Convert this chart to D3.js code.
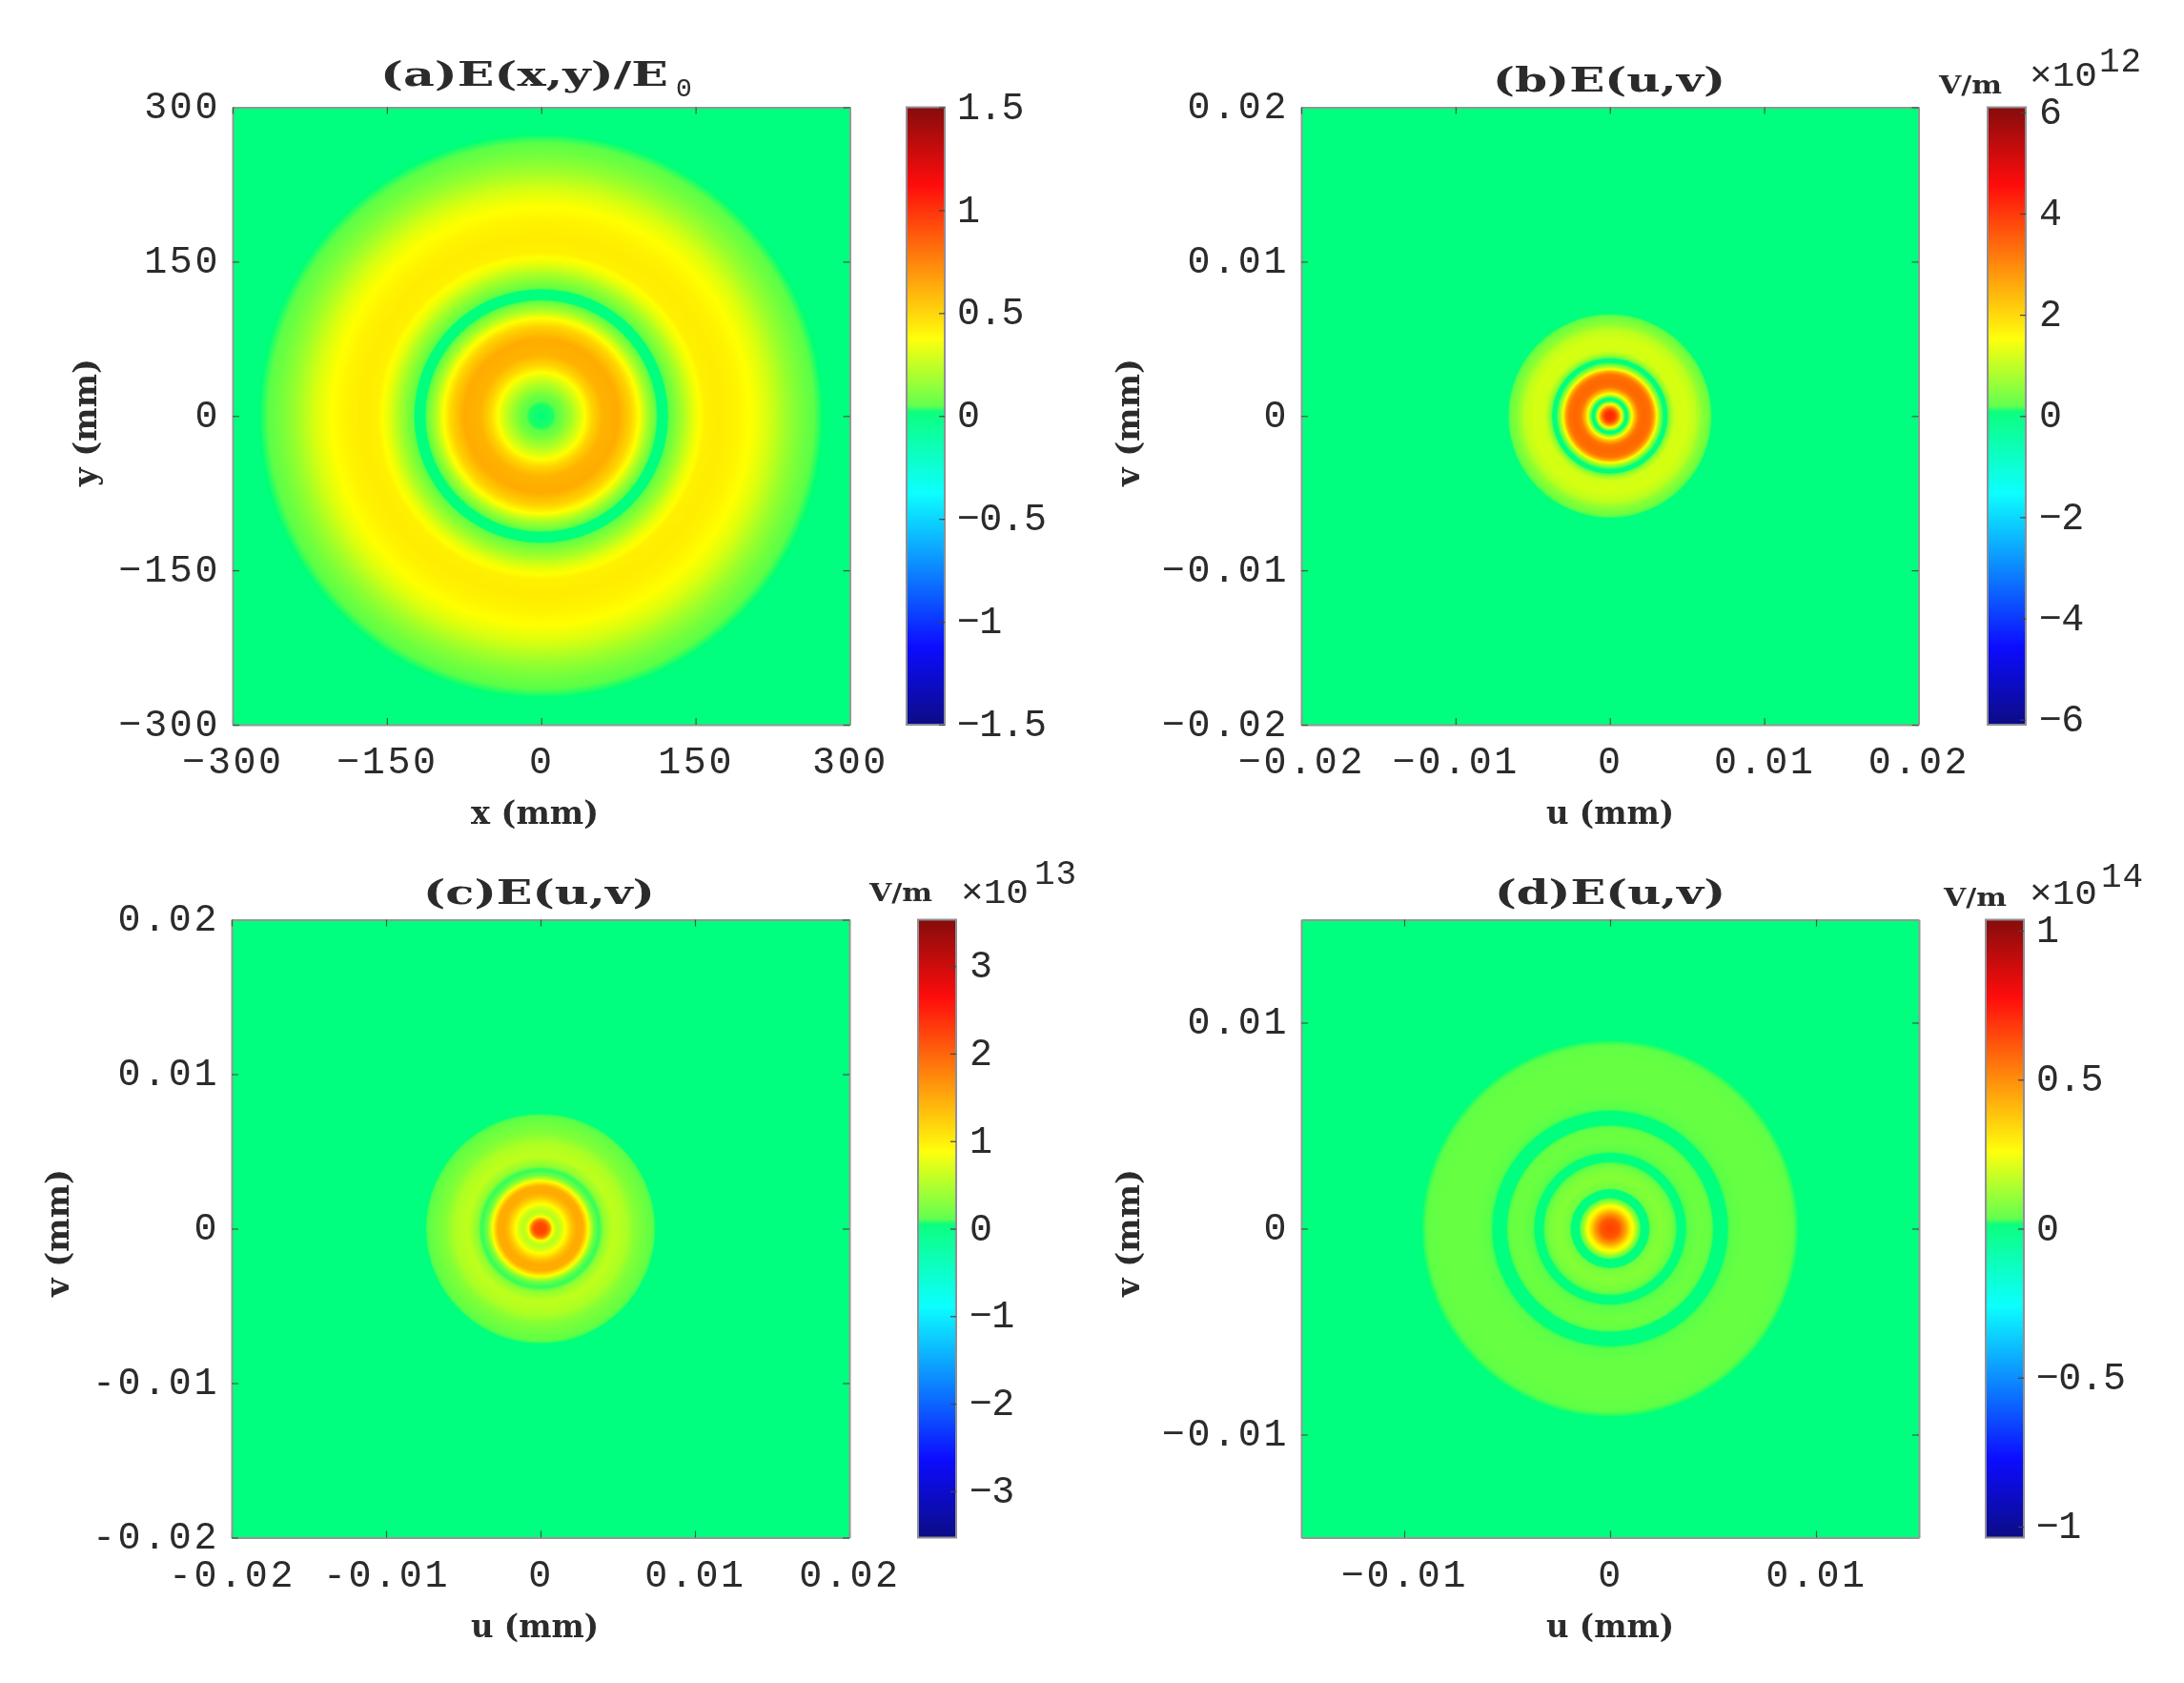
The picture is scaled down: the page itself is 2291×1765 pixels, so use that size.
<!DOCTYPE html>
<html><head><meta charset="utf-8">
<script src="https://cdn.jsdelivr.net/npm/d3@7"></script>
<style>
html,body{margin:0;padding:0;background:#fff}
svg{display:block;filter:blur(0.55px)}
text{fill:#2b2b2b}
.tick text{font-family:"Liberation Mono",monospace;font-size:40px;fill:#2b2b2b}
.lab{font-family:"DejaVu Serif",serif;font-weight:bold;font-size:33px}
.ttl{font-family:"DejaVu Serif",serif;font-weight:bold;font-size:36px}
.unit{font-family:"DejaVu Serif",serif;font-weight:bold;font-size:26px}
.exp{font-family:"Liberation Mono",monospace;font-size:36px}
</style></head><body>
<svg id="c" width="2291" height="1765"></svg>
<script>
// radial field profiles: radius (mm) and value
const aRadius=[0,12,20,30,40,50,60,75,88,96,104,110,113,115,122,125,138,148,160,175,190,205,220,240,255,262,268,272,276];
const aValue=[.02,.03,.08,.2,.33,.5,.6,.62,.5,.36,.19,.09,.03,0,0,.06,.2,.32,.42,.43,.41,.37,.3,.17,.09,.06,.04,.028,.012];
const bRadiusUm=[0,.31,.52,.68,.82,.95,1.07,1.19,1.30,1.44,1.65,1.90,2.27,2.68,2.88,3.05,3.21,3.40,3.55,3.72,3.91,4.22,4.94,5.56,5.97,6.39,6.59,6.70];
const bValue=[4.1,4.0,3.3,2.3,1.2,.2,0,0,.5,1.4,2.4,3.2,3.35,3.2,2.6,1.6,.8,.2,0,0,.6,1.15,1.2,1.0,.6,.35,.15,0];
const cRadiusUm=[0,.41,.62,.78,.93,1.13,1.44,1.75,2.06,2.37,2.78,3.09,3.30,3.50,3.71,3.91,4.12,4.74,5.56,6.18,7.0,7.42,7.52];
const cValue=[2.22,2.1,1.76,.95,.71,.53,.71,1.0,1.3,1.47,1.45,.95,.53,.18,.09,.09,.35,.58,.5,.3,.17,.09,0];
const dRadiusUm=[0,.46,.77,1.0,1.16,1.31,1.47,1.58,1.88,2.01,2.47,2.94,3.17,3.36,3.60,3.74,4.33,4.79,4.95,5.14,5.60,5.80,6.49,8.04,8.81,9.12,9.27];
const dValue=[.65,.6,.45,.3,.24,.12,.03,0,0,.06,.09,.07,.035,0,0,.03,.055,.05,.035,0,0,.03,.048,.05,.04,.02,0];

// tick labels
const aTicks=[-300,-150,0,150,300];
const bTicks=[-0.02,-0.01,0,0.01,0.02];
const dTicks=[-0.01,0,0.01];
const aBarTicks=[-1.5,-1,-0.5,0,0.5,1,1.5];
const bBarTicks=[-6,-4,-2,0,2,4,6];
const cBarTicks=[-3,-2,-1,0,1,2,3];
const dBarTicks=[-1,-0.5,0,0.5,1];

// colormap (fraction of colour limit -> colour)
const cmapStops=[-1,-.75,-.25,.014,.032,.25,.75,1];
const cmapColors=["#000080","#0000ff","#00ffff","#00ff78","#5cff48","#ffff00","#ff0000","#800000"];

const svg=d3.select("#c");
const minus=s=>String(s).replace("-","\u2212");
const hyphen=s=>String(s);

const panels=[
 {x0:244,y0:112.5,size:647.5,lim:300,ticks:aTicks,r:aRadius,v:aValue,barX:951,barW:40,clim:1.5,barTicks:aBarTicks,fmt:minus,
  title:"(a)E(x,y)/E",sub:"0",tx:399,tw:302,ty:90,xl:"x (mm)",yl:"y (mm)",xlx:561,ylx:92,yly:443,labx:1004},
 {x0:1365,y0:112.5,size:647.5,lim:.02,ticks:bTicks,r:bRadiusUm.map(d=>d/1000),v:bValue,barX:2085,barW:40,clim:6.1,barTicks:bBarTicks,fmt:minus,
  title:"(b)E(u,v)",tx:1566,tw:244,ty:96,xl:"u (mm)",yl:"v (mm)",xlx:1689,ylx:1186,yly:443,labx:2139,
  unit:[2034,98],times:[2129,90],exp:"12",expAt:[2202,75]},
 {x0:243,y0:964.5,size:648,lim:.02,ticks:bTicks,r:cRadiusUm.map(d=>d/1000),v:cValue,barX:963,barW:40,clim:3.53,barTicks:cBarTicks,fmt:hyphen,
  title:"(c)E(u,v)",tx:444,tw:243,ty:948,xl:"u (mm)",yl:"v (mm)",xlx:561,ylx:63,yly:1293,labx:1017,
  unit:[912,945],times:[1008,947],exp:"13",expAt:[1085,927]},
 {x0:1365,y0:964.5,size:648,lim:.015,ticks:dTicks,r:dRadiusUm.map(d=>d/1000),v:dValue,barX:2083,barW:40,clim:1.037,barTicks:dBarTicks,fmt:minus,
  title:"(d)E(u,v)",tx:1568,tw:242,ty:948,xl:"u (mm)",yl:"v (mm)",xlx:1689,ylx:1186,yly:1293,labx:2136,
  unit:[2039,950],times:[2129,948],exp:"14",expAt:[2204,930]}
];

panels.forEach(p=>{
  const g=svg.append("g");
  const x=d3.scaleLinear().domain([-p.lim,p.lim]).range([p.x0,p.x0+p.size]);
  const y=d3.scaleLinear().domain([-p.lim,p.lim]).range([p.y0+p.size,p.y0]);
  const color=d3.scaleLinear().domain(cmapStops.map(s=>s*p.clim)).range(cmapColors).interpolate(d3.interpolateRgb).clamp(true);
  const field=d3.scaleLinear().domain(p.r).range(p.v).clamp(true);

  // field: background, then rings painted from the outside in
  const clipId="clip"+p.x0+"_"+Math.round(p.y0);
  g.append("clipPath").attr("id",clipId).append("rect").attr("x",p.x0).attr("y",p.y0).attr("width",p.size).attr("height",p.size);
  g.append("rect").attr("x",p.x0).attr("y",p.y0).attr("width",p.size).attr("height",p.size).attr("fill",color(0));
  const scale=p.size/(2*p.lim);
  const rMax=d3.max(p.r);
  const rings=d3.range(rMax,0,-0.75/scale);
  g.append("g").attr("clip-path",`url(#${clipId})`).selectAll("circle").data(rings).join("circle")
    .attr("cx",x(0)).attr("cy",y(0)).attr("r",d=>d*scale).attr("fill",d=>color(field(d)));

  // frame and inner ticks
  const axes=[
    [d3.axisBottom(x).tickValues(p.ticks).tickFormat(p.fmt),`translate(0,${p.y0+p.size})`,"b"],
    [d3.axisLeft(y).tickValues(p.ticks).tickFormat(p.fmt),`translate(${p.x0},0)`,"l"],
    [d3.axisTop(x).tickValues(p.ticks).tickFormat(""),`translate(0,${p.y0})`,"t"],
    [d3.axisRight(y).tickValues(p.ticks).tickFormat(""),`translate(${p.x0+p.size},0)`,"r"]
  ];
  axes.forEach(([ax,tr,side])=>{
    const a=g.append("g").attr("transform",tr).call(ax.tickSizeInner(-7).tickSizeOuter(0).tickPadding(0));
    a.select(".domain").attr("stroke","#8f9a92").attr("stroke-width",2);
    a.selectAll(".tick line").attr("stroke","#3c5a48").attr("stroke-width",1.2);
    a.selectAll(".tick text").attr("letter-spacing",2.6);
    if(side==="b") a.selectAll(".tick text").attr("dy",0).attr("y",51);
    if(side==="l") a.selectAll(".tick text").attr("x",-13).attr("dy",".28em");
    if(side==="t"||side==="r") a.selectAll(".tick text").remove();
  });

  // colour bar
  const barY=d3.scaleLinear().domain([-p.clim,p.clim]).range([p.y0+p.size,p.y0]);
  const levels=d3.range(p.y0,p.y0+p.size,1).map(py=>barY.invert(py+.5));
  g.append("g").selectAll("rect").data(levels).join("rect")
    .attr("x",p.barX).attr("width",p.barW).attr("y",d=>barY(d)-.5).attr("height",1.4).attr("fill",d=>color(d));
  g.append("rect").attr("x",p.barX).attr("y",p.y0).attr("width",p.barW).attr("height",p.size)
    .attr("fill","none").attr("stroke","#8f8f95").attr("stroke-width",2);
  const bar=g.append("g").attr("transform",`translate(${p.barX+p.barW},0)`)
    .call(d3.axisRight(barY).tickValues(p.barTicks).tickFormat(minus).tickSizeInner(-6).tickSizeOuter(0).tickPadding(0));
  bar.select(".domain").remove();
  bar.selectAll(".tick line").attr("stroke","#444").attr("stroke-width",1.2);
  bar.selectAll(".tick text").attr("x",p.labx-p.barX-p.barW).attr("dy",".29em").attr("letter-spacing",-0.7);

  // titles and labels
  svg.append("text").attr("class","ttl").attr("x",p.tx).attr("y",p.ty).attr("textLength",p.tw).attr("lengthAdjust","spacingAndGlyphs").text(p.title);
  if(p.sub) svg.append("text").attr("x",p.tx+p.tw+8).attr("y",p.ty+11).attr("font-size",28).attr("font-family","Liberation Mono").text(p.sub);
  svg.append("text").attr("class","lab").attr("x",p.xlx-67).attr("y",p.y0+p.size+104).attr("textLength",134).attr("lengthAdjust","spacingAndGlyphs").text(p.xl);
  svg.append("text").attr("class","lab").attr("transform",`translate(${p.ylx+9},${p.yly+67}) rotate(-90)`).attr("textLength",134).attr("lengthAdjust","spacingAndGlyphs").text(p.yl);
  if(p.unit){
    svg.append("text").attr("class","unit").attr("x",p.unit[0]).attr("y",p.unit[1]).attr("textLength",66).attr("lengthAdjust","spacingAndGlyphs").text("V/m");
    svg.append("text").attr("class","exp").attr("x",p.times[0]).attr("y",p.times[1]).attr("textLength",71).attr("lengthAdjust","spacingAndGlyphs").text("\u00d710");
    svg.append("text").attr("class","exp").attr("x",p.expAt[0]).attr("y",p.expAt[1]).attr("font-size",27).attr("letter-spacing",1).text(p.exp);
  }
});
</script></body></html>
